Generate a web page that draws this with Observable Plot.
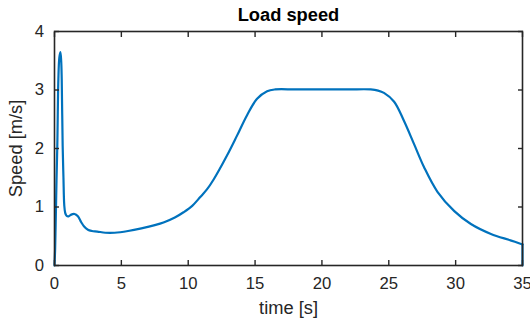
<!DOCTYPE html>
<html>
<head>
<meta charset="utf-8">
<script src="https://cdn.jsdelivr.net/npm/d3@7"></script>
<script src="https://cdn.jsdelivr.net/npm/@observablehq/plot@0.6"></script>
<style>
  body { margin: 0; background: #fff; }
  #chart { width: 530px; height: 320px; }
</style>
</head>
<body>
<div id="chart"></div>
<script>
const titleText = "Load speed";
const xLabel = "time [s]";
const yLabel = "Speed [m/s]";
const xTicks = [0, 5, 10, 15, 20, 25, 30, 35];
const yTicks = [0, 1, 2, 3, 4];

const time = [
  0, 0.05, 0.1, 0.15, 0.21, 0.29, 0.36, 0.44, 0.5, 0.54, 0.61, 0.67, 0.73, 0.8, 0.9,
  1.05, 1.25, 1.5, 1.75, 2.0, 2.2, 2.5, 2.8, 3.2, 3.8, 4.5, 5.5, 6.5, 7.5, 8.2, 9.0,
  9.65, 10.3, 10.9, 11.4, 11.9, 12.9, 13.65, 14.4, 15.15, 15.9, 16.5, 18, 20, 22, 23.65,
  24.2, 24.64, 25.4, 26.14, 26.9, 27.64, 28.64, 29.9, 31.14, 32.64, 34.1, 35, 35
];
const speed = [
  0, 0.3, 0.85, 1.45, 2.05, 3.19, 3.55, 3.65, 3.5, 3.19, 2.05, 1.5, 1.03, 0.9, 0.85,
  0.84, 0.87, 0.88, 0.84, 0.74, 0.67, 0.61, 0.59, 0.58, 0.56, 0.56, 0.59, 0.635, 0.69, 0.74, 0.82,
  0.91, 1.02, 1.17, 1.3, 1.47, 1.88, 2.22, 2.57, 2.85, 2.98, 3.01, 3.01, 3.01, 3.01, 3.01,
  2.99, 2.95, 2.8, 2.47, 2.07, 1.68, 1.26, 0.93, 0.71, 0.54, 0.43, 0.36, 0
];

const data = time.map((t, i) => ({t, v: speed[i]}));
const ink = "#262626";
const font = "'Liberation Sans', Arial, Helvetica, sans-serif";
const fmt = d => String(d);
const lineStyle = {x: "t", y: "v", stroke: "#0072BD", strokeWidth: 2.2};

const chart = Plot.plot({
  width: 530,
  height: 320,
  marginLeft: 54,
  marginRight: 8,
  marginTop: 31,
  marginBottom: 55,
  style: {fontFamily: font, fontSize: "16.7px", color: ink, background: "#fff"},
  x: {domain: [0, 35], label: null},
  y: {domain: [0, 4], label: null},
  marks: [
    Plot.line(data.slice(0, -1), {...lineStyle, curve: "catmull-rom"}),
    Plot.line(data.slice(-2), {...lineStyle, curve: "linear"}),
    Plot.frame({stroke: ink, strokeWidth: 1.6}),
    // inward ticks on all four sides
    Plot.axisX({ticks: xTicks, anchor: "bottom", tickSize: -5, tickFormat: () => "", stroke: ink, strokeWidth: 1.4, label: null}),
    Plot.axisX({ticks: xTicks, anchor: "top", tickSize: -5, tickFormat: () => "", stroke: ink, strokeWidth: 1.4, label: null}),
    Plot.axisY({ticks: yTicks, anchor: "left", tickSize: -5, tickFormat: () => "", stroke: ink, strokeWidth: 1.4, label: null}),
    Plot.axisY({ticks: yTicks, anchor: "right", tickSize: -5, tickFormat: () => "", stroke: ink, strokeWidth: 1.4, label: null}),
    // tick labels
    Plot.axisX({ticks: xTicks, anchor: "bottom", tickSize: 0, tickPadding: 12, tickFormat: fmt, fill: ink, fontSize: 16.7, label: null}),
    Plot.axisY({ticks: yTicks, anchor: "left", tickSize: 0, tickPadding: 10.5, tickFormat: fmt, fill: ink, fontSize: 16.7,
      label: yLabel, labelAnchor: "center", labelArrow: "none", labelOffset: 46}),
    // x label and title
    Plot.text([xLabel], {frameAnchor: "bottom", dy: 48, lineAnchor: "bottom", fontSize: 18.3, fill: ink}),
    Plot.text([titleText], {frameAnchor: "top", dy: -10.3, lineAnchor: "bottom", fontSize: 18.3, fontWeight: "bold", fill: "#000"})
  ]
});
document.getElementById("chart").appendChild(chart);
// match the y axis label font size to the reference
chart.querySelectorAll("text").forEach(t => { if (t.textContent === yLabel) t.setAttribute("font-size", "18.3"); });
</script>
</body>
</html>
